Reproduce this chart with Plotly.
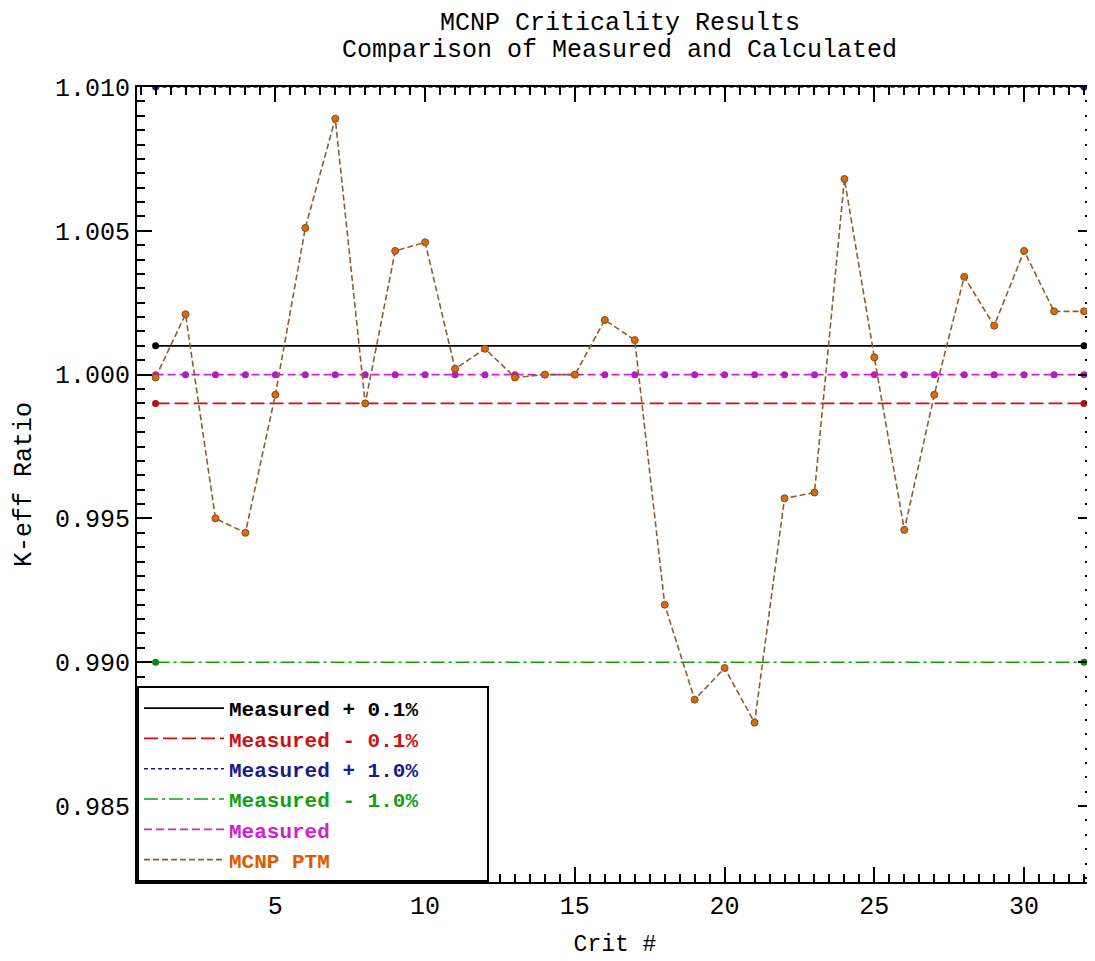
import plotly.graph_objects as go

crit = list(range(1, 33))
mcnp_ptm = [0.9999, 1.0021, 0.9950, 0.9945, 0.9993, 1.0051, 1.0089, 0.9990,
            1.0043, 1.0046, 1.0002, 1.0009, 0.9999, 1.0000, 1.0000, 1.0019,
            1.0012, 0.9920, 0.9887, 0.9898, 0.9879, 0.9957, 0.9959, 1.0068,
            1.0006, 0.9946, 0.9993, 1.0034, 1.0017, 1.0043, 1.0022, 1.0022]
measured = [1.000] * 32
meas_p01 = [1.001] * 32
meas_m01 = [0.999] * 32
meas_p10 = [1.010] * 32
meas_m10 = [0.990] * 32
title_lines = ["MCNP Criticality Results", "Comparison of Measured and Calculated"]

FONT = "Liberation Mono"
fig = go.Figure()

def line(y, name, color, dash, width=1.6, txtcolor=None, pad=0):
    fig.add_trace(go.Scatter(
        x=crit, y=y, mode="lines",
        name=f"<span style='color:{txtcolor or color}'>{name}</span>" + "\u00a0" * pad,
        line=dict(color=color, dash=dash, width=width)))

def end_markers(y, color):
    fig.add_trace(go.Scatter(
        x=[crit[0], crit[-1]], y=[y[0], y[-1]], mode="markers",
        marker=dict(color=color, size=7), showlegend=False, hoverinfo="skip"))

line(meas_p01, "Measured + 0.1%", "black", "solid", pad=5)
end_markers(meas_p01, "black")
line(meas_m01, "Measured - 0.1%", "#d01010", "14px,5px", 1.8)
end_markers(meas_m01, "#b01010")
line(meas_p10, "Measured + 1.0%", "#1a1a90", "4px,3px", 1.6)
end_markers(meas_p10, "#1a1a90")
line(meas_m10, "Measured - 1.0%", "#10a010", "14px,4px,3px,4px", 1.6)
end_markers(meas_m10, "#108010")
line(measured, "Measured", "#d020d0", "8px,4px", 1.8)
fig.add_trace(go.Scatter(x=crit, y=measured, mode="markers",
                         marker=dict(color="#b020c0", size=7),
                         showlegend=False, hoverinfo="skip"))
line(mcnp_ptm, "MCNP PTM", "#8a6030", "6px,3px", 1.6, txtcolor="#e05a00")
fig.add_trace(go.Scatter(x=crit, y=mcnp_ptm, mode="markers",
                         marker=dict(color="#d86a10", size=7,
                                     line=dict(color="#8a4a10", width=1)),
                         showlegend=False, hoverinfo="skip"))

axis_common = dict(showgrid=False, zeroline=False, showline=True,
                   linecolor="black", linewidth=2, mirror="allticks",
                   ticks="inside", tickcolor="black", tickwidth=2,
                   ticklen=15,
                   tickfont=dict(family=FONT, size=25, color="black"))
minor_common = dict(ticks="inside", ticklen=8, tickcolor="black", tickwidth=2,
                    showgrid=False)

fig.update_xaxes(range=[0.38, 32.3], tick0=0, dtick=5,
                 minor=dict(dtick=0.5, **minor_common),
                 title=dict(text="Crit #", font=dict(family=FONT, size=23, color="black"),
                            standoff=14),
                 **axis_common)
fig.update_yaxes(range=[0.98236, 1.010], tick0=0.985, dtick=0.005,
                 tickformat=".3f",
                 minor=dict(dtick=0.0005, **minor_common),
                 title=dict(text="K-eff Ratio", font=dict(family=FONT, size=25, color="black"),
                            standoff=16),
                 **axis_common)

for txt, yy in zip(title_lines, [1.0805, 1.046]):
    fig.add_annotation(text=txt, xref="paper", yref="paper", x=0.505, y=yy,
                       xanchor="center", yanchor="middle", showarrow=False,
                       font=dict(family=FONT, size=25, color="black"))

fig.update_layout(
    width=1095, height=961,
    paper_bgcolor="white", plot_bgcolor="white",
    margin=dict(l=129, r=8, t=79, b=87),
    legend=dict(x=0, y=0, xanchor="left", yanchor="bottom",
                bgcolor="white", bordercolor="black", borderwidth=2,
                font=dict(family=FONT, size=21, color="black", weight="bold"),
                itemwidth=80, tracegroupgap=0),
    showlegend=True,
)

fig.write_html("out.html")
